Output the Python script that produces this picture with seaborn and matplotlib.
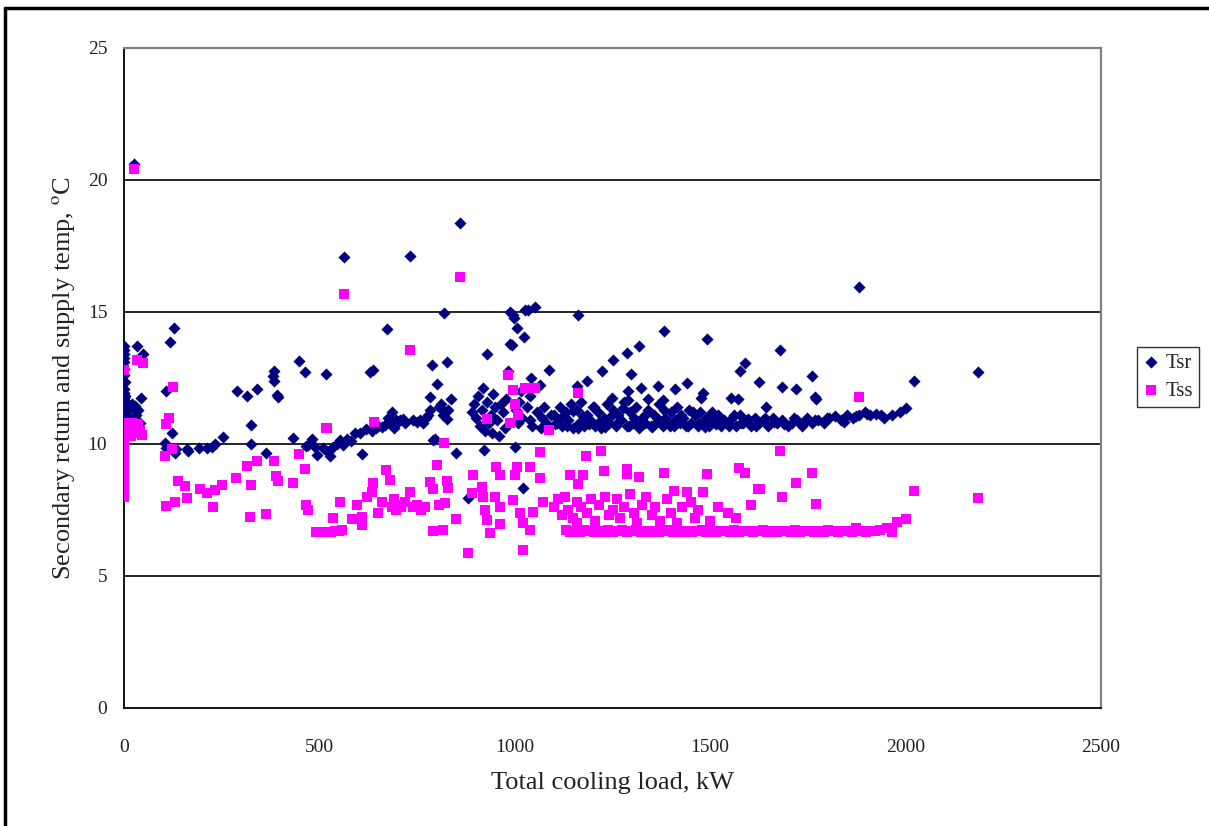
import matplotlib
matplotlib.use("Agg")
import matplotlib.pyplot as plt
from matplotlib.lines import Line2D
import pandas as pd
import seaborn as sns

# ---- Secondary return temperature (Tsr) ----
tsr_load = [
    0, 0, 0, 0, 0, 0, 0, 2, 0, 0, 0, 0, 0, 0, 0, 0, 0, 0, 0, 0, 0, 3, 5, 4, 6, 8, 3, 10, 12, 2,
    25, 32, 48, 43, 27, 35, 20, 30, 40, 15,
    107, 117, 128, 105, 108, 123, 133, 130, 160, 165, 193, 213, 225, 232, 253,
    288, 315, 341, 383, 380, 385, 391, 393, 447, 463, 517, 325, 324, 363, 432, 466, 472, 480, 490,
    495, 510, 520, 522, 528, 535, 545, 553, 560, 563, 570, 580, 592, 604, 610, 620, 630, 638, 635,
    645, 650, 660, 668, 672, 675, 680, 685, 690, 695, 700, 707, 715, 720, 732, 740, 750, 757, 765,
    772, 778, 783, 787, 783, 791, 795, 800, 805, 810, 816, 820, 822, 827, 826, 830, 837, 849, 860,
    881, 890, 895, 900, 905, 910, 915, 919, 921, 925, 928, 930, 935, 938, 942, 945, 950, 955, 960,
    965, 970, 975, 978, 983, 988, 988, 992, 995, 997, 1000, 1004, 1005, 1008, 1012, 1015, 1018,
    1022, 1024, 1026, 1030, 1035, 1038, 1040, 1042, 1045, 1052, 1058, 1064, 1066, 1070, 1075,
    1080, 1088, 1092,
    1158, 1161, 1184, 1223, 1248, 1250, 1286, 1290, 1290, 1297, 1317, 1323, 1342, 1366, 1378,
    1382, 1409, 1440, 1476, 1482, 1491, 1552, 1570, 1576, 1588, 1624, 1644, 1679, 1683, 1720,
    1761, 1768, 1772, 1880, 2000, 2022, 2185,
    1100, 1108, 1115, 1122, 1130, 1137, 1145, 1150, 1158, 1165, 1170, 1178, 1185, 1192, 1200,
    1206, 1212, 1220, 1228, 1235, 1242, 1250, 1258, 1265, 1272, 1280, 1288, 1295, 1302, 1310,
    1318, 1325, 1332, 1340, 1348, 1355, 1362, 1370, 1378, 1385, 1392, 1400, 1408, 1415, 1422,
    1430, 1438, 1445, 1452, 1460, 1468, 1475, 1482, 1490, 1498, 1505, 1512, 1520, 1528, 1535,
    1545, 1555, 1565, 1575, 1585, 1595, 1605, 1615, 1625, 1635, 1648, 1660, 1672, 1685, 1698,
    1710, 1722, 1735, 1748, 1760, 1775, 1790, 1805, 1820, 1835, 1850, 1865, 1880, 1895, 1910,
    1925, 1945, 1965, 1985,
    1104, 1118, 1133, 1148, 1162, 1175, 1190, 1203, 1216, 1232, 1246, 1262, 1276, 1292, 1306,
    1320, 1336, 1352, 1366, 1381, 1396, 1411, 1426, 1442, 1456, 1471, 1486, 1502, 1516, 1532,
    1548, 1562, 1580, 1598, 1618, 1640, 1662, 1690, 1715, 1740, 1768, 1800, 1842, 1872, 1902,
    1938,
]
tsr_temp = [
    13.7, 13.55, 13.4, 13.25, 13.1, 12.85, 12.6, 12.35, 12.1, 11.95, 11.85, 11.75, 11.65, 11.55,
    11.45, 11.35, 11.25, 11.15, 11.05, 10.95, 10.85, 11.8, 11.6, 11.4, 11.2, 11.0, 10.9, 11.5,
    11.3, 11.0,
    20.6, 13.7, 13.4, 11.73, 11.43, 11.3, 11.5, 11.1, 10.8, 10.9,
    12.02, 13.88, 14.38, 10.05, 9.85, 10.4, 9.8, 9.65, 9.82, 9.72, 9.85, 9.84, 9.9, 10.0, 10.28,
    12.02, 11.8, 12.1, 12.78, 12.58, 12.37, 11.87, 11.78, 13.14, 12.71, 12.67, 10.73, 10.0, 9.67,
    10.24, 9.94, 9.98, 10.2, 9.9,
    9.6, 9.85, 9.75, 9.7, 9.55, 9.9, 10.0, 10.15, 9.95, 17.1, 10.2, 10.1, 10.4, 10.4, 9.64, 10.55,
    12.72, 12.8, 10.5,
    10.6, 10.7, 10.65, 10.72, 14.34, 11.0, 10.8, 11.2, 10.6, 10.9, 10.85, 10.9, 10.95, 10.8, 17.13,
    10.9, 10.85, 10.9, 10.8,
    11.0, 11.1, 11.3, 12.99, 11.79, 10.15, 10.2, 12.29, 11.4, 11.5, 11.1, 14.97, 11.2, 13.09,
    10.95, 11.3, 11.7, 9.67, 18.36,
    7.97, 11.2, 11.5, 11.0, 11.8, 10.7, 11.3, 12.14, 9.77, 10.5, 13.4, 11.6, 10.8, 11.1, 10.4,
    11.9, 11.4, 10.9, 10.3,
    11.5, 11.2, 10.6, 11.7, 12.75, 13.8, 15.0, 13.75, 14.9, 14.77, 9.9, 11.3, 14.38, 10.8, 11.6,
    12.0, 11.0,
    8.34, 14.04, 15.08, 11.4, 15.08, 10.9, 11.8, 12.5, 10.7, 15.2, 11.2, 12.23, 10.6, 11.0, 11.4,
    10.8, 12.82, 11.1,
    12.2, 14.89, 12.4, 12.78, 11.73, 13.17, 13.46, 11.99, 11.67, 12.67, 13.73, 12.13, 11.72, 12.2,
    11.68, 14.29, 12.1, 12.3, 11.75, 11.95, 13.98, 11.75, 11.7, 12.75, 13.05, 12.35, 11.41, 13.56,
    12.17, 12.08, 12.58, 11.79, 11.7, 15.96, 11.38, 12.39, 12.73,
    11.1, 10.8, 11.4, 10.7, 11.2, 10.9, 11.5, 10.6, 11.3, 10.8, 11.6, 10.7, 11.1, 10.9, 11.4,
    10.7, 11.2, 10.6, 11.0, 11.5, 10.8, 11.3, 10.7, 11.1, 10.9, 11.6, 10.7, 11.2, 10.8, 11.4,
    10.6, 11.0, 10.8, 11.3, 10.7, 11.1, 10.8, 11.5, 10.7, 11.0, 10.8, 11.2, 10.7, 11.4, 10.8,
    11.0, 10.7, 11.3, 10.8, 11.1, 10.7, 11.2, 10.8, 11.0, 10.7, 11.2, 10.8, 11.1, 10.7, 10.9,
    10.8, 11.0, 10.7, 11.1, 10.8, 10.9, 10.7, 11.0, 10.8, 10.9, 10.7, 11.0, 10.8, 10.9, 10.7,
    10.8, 10.9, 10.7, 11.0, 10.8, 10.9, 10.8, 11.0, 11.05, 10.9, 11.1, 11.0, 11.1, 11.2, 11.1,
    11.15, 11.0, 11.1, 11.2,
    10.75, 11.0, 10.7, 11.25, 10.6, 11.05, 10.75, 11.4, 10.85, 10.65, 11.05, 10.8, 11.35, 10.7,
    11.0, 10.75, 11.15, 10.65, 10.95, 11.3, 10.7, 10.9, 11.1, 10.7, 11.2, 10.8, 10.65, 11.05,
    10.75, 10.9, 10.7, 11.1, 10.8, 10.95, 10.7, 11.0, 10.85, 10.75, 11.0, 10.8, 10.9, 11.0, 10.85,
    11.05, 11.15, 11.1,
]

# ---- Secondary supply temperature (Tss) ----
tss_load = [
    0, 0, 0, 0, 0, 0, 0, 0, 0, 0, 0, 0, 0, 0, 0, 0, 0, 0, 0, 0, 0, 0, 0, 0, 0, 0, 0, 0, 0, 0,
    10, 15, 20, 25, 30, 35, 40, 45, 18, 8,
    25, 33, 48, 126, 116, 107, 123, 106, 137, 157, 161, 107, 131, 194, 212, 232, 252, 227, 287,
    316, 340, 325, 322, 363, 384, 389, 393, 432, 447, 462, 466, 470,
    491, 500, 510, 520, 530, 540, 550, 558,
    517, 519, 536, 553, 563, 583, 596, 608, 608, 621, 634, 638, 640, 650, 660, 671, 680, 685, 690,
    695, 700, 710, 720, 732, 732, 740, 750, 760, 770, 783, 791, 791, 800, 805, 816, 821, 826, 830,
    820, 850, 860,
    881, 890, 893, 917, 919, 924, 928, 928, 936, 949, 953, 962, 962, 962, 983, 988, 996, 996, 1000,
    1000, 1005, 1007, 1013, 1022, 1022, 1026, 1039, 1039, 1047, 1052, 1064, 1064, 1073, 1088,
    1141, 1161, 1175, 1182, 1220, 1227, 1286, 1288, 1317, 1381, 1408, 1440, 1481, 1491, 1574,
    1588, 1623, 1627, 1678, 1683, 1720, 1761, 1771, 1880, 1952, 1964, 1977, 2000, 2022, 2185,
    1100, 1110, 1120, 1128, 1135, 1150, 1158, 1160, 1162, 1170, 1185, 1195, 1205, 1215, 1230,
    1240, 1250, 1262, 1270, 1280, 1295, 1305, 1312, 1325, 1335, 1350, 1360, 1372, 1390, 1400,
    1415, 1428, 1450, 1462, 1470, 1500, 1520, 1545, 1565, 1605,
    1130, 1142, 1154, 1166, 1178, 1190, 1202, 1214, 1226, 1238, 1250, 1262, 1274, 1286, 1298,
    1310, 1322, 1334, 1346, 1358, 1370, 1382, 1394, 1406, 1418, 1430, 1442, 1454, 1466, 1478,
    1490, 1502, 1514, 1526, 1538, 1550, 1562, 1574, 1586, 1598, 1610, 1622, 1634, 1646, 1658,
    1670, 1682, 1694, 1706, 1718, 1730, 1742, 1754, 1766, 1778, 1790, 1802, 1814, 1826, 1838,
    1850, 1862, 1874, 1886, 1898, 1910, 1922, 1934,
]
tss_temp = [
    12.8, 10.8, 10.7, 10.6, 10.5, 10.4, 10.3, 10.2, 10.1, 10.0, 9.9, 9.8, 9.7, 9.6, 9.5, 9.4,
    9.3, 9.2, 9.1, 9.0, 8.9, 8.8, 8.7, 8.6, 8.5, 8.4, 8.3, 8.2, 8.1, 8.0,
    10.7, 10.5, 10.8, 10.6, 10.4, 10.75, 10.5, 10.34, 10.3, 10.6,
    20.4, 13.2, 13.05, 12.15, 11.0, 10.76, 9.81, 9.55, 8.61, 8.41, 7.95, 7.67, 7.8, 8.28, 8.13,
    8.26, 8.43, 7.63, 8.71, 9.17, 9.34, 8.46, 7.22, 7.33, 9.35, 8.8, 8.6, 8.54, 9.64, 9.04, 7.7,
    7.5,
    6.67, 6.67, 6.67, 6.67, 6.67, 6.7, 6.7, 6.75,
    10.6, 10.62, 7.19, 7.81, 15.68, 7.16, 7.69, 7.25, 6.93, 7.98, 8.2, 8.51, 10.85, 7.4, 7.8, 9.02,
    8.64, 7.6, 7.9, 7.5, 7.7, 7.6, 7.8, 13.56, 8.2, 7.6, 7.7, 7.5, 7.6, 8.57, 8.28, 6.7, 9.2, 7.7,
    6.74, 7.75, 8.6, 8.35, 10.05, 7.16, 16.34,
    5.86, 8.16, 8.83, 8.39, 8.0, 7.5, 7.12, 10.93, 6.62, 8.0, 9.14, 8.83, 7.63, 6.97, 12.6, 10.8,
    12.05, 7.88, 8.83, 11.5, 9.14, 11.1, 7.37, 6.99, 5.98, 12.12, 9.14, 6.74, 7.44, 12.14, 8.7,
    9.7, 7.81, 10.52,
    8.83, 11.95, 8.83, 9.53, 9.72, 8.96, 8.86, 9.05, 8.74, 8.91, 8.23, 8.2, 8.2, 8.86, 9.08, 8.89,
    8.3, 8.3, 9.75, 8.01, 8.51, 8.92, 7.73, 11.78, 6.82, 6.68, 7.05, 7.16, 8.23, 7.97,
    7.6, 7.9, 7.3, 8.0, 7.5, 7.2, 7.8, 7.0, 8.5, 7.6, 7.4, 7.9, 7.1, 7.7, 8.0, 7.3, 7.5, 7.9,
    7.2, 7.6, 8.1, 7.4, 7.0, 7.7, 8.0, 7.3, 7.6, 7.1, 7.9, 7.4, 7.0, 7.6, 7.8, 7.2, 7.5, 7.1,
    7.6, 7.4, 7.2, 7.7,
    6.75, 6.68, 6.72, 6.66, 6.74, 6.7, 6.65, 6.72, 6.68, 6.75, 6.66, 6.7, 6.73, 6.67, 6.7, 6.74,
    6.66, 6.7, 6.68, 6.72, 6.65, 6.7, 6.74, 6.67, 6.7, 6.66, 6.72, 6.68, 6.7, 6.75, 6.66, 6.7,
    6.68, 6.72, 6.7, 6.66, 6.74, 6.68, 6.7, 6.72, 6.66, 6.7, 6.75, 6.68, 6.7, 6.66, 6.72, 6.7,
    6.68, 6.74, 6.66, 6.7, 6.72, 6.68, 6.7, 6.66, 6.74, 6.7, 6.68, 6.72, 6.7, 6.66, 6.82, 6.7,
    6.68, 6.72, 6.7, 6.75,
]

x_ticks = [0, 500, 1000, 1500, 2000, 2500]
y_ticks = [0, 5, 10, 15, 20, 25]

NAVY = "#000080"
MAGENTA = "#FF00FF"

sns.set_theme(style="white")
plt.rcParams["font.family"] = ["Liberation Serif", "DejaVu Serif"]
plt.rcParams["mathtext.fontset"] = "stix"

fig = plt.figure(figsize=(12.09, 8.26), dpi=100)
ax = fig.add_axes([124 / 1209, 1 - 708 / 826, (1101 - 124) / 1209, (708 - 48) / 826])

tsr = pd.DataFrame({"load": tsr_load, "temp": tsr_temp})
tss = pd.DataFrame({"load": tss_load, "temp": tss_temp})

sns.scatterplot(data=tsr, x="load", y="temp", ax=ax, marker="D", s=38,
                color=NAVY, linewidth=0, label="Tsr", zorder=3)
sns.scatterplot(data=tss, x="load", y="temp", ax=ax, marker="s", s=55,
                color=MAGENTA, linewidth=0, label="Tss", zorder=4)

ax.set_xlim(0, 2500)
ax.set_ylim(0, 25)
ax.set_xticks(x_ticks)
ax.set_yticks(y_ticks)
ax.set_xticklabels([str(v) for v in x_ticks])
ax.set_yticklabels([str(v) for v in y_ticks])
ax.tick_params(axis="both", labelsize=14, direction="in", length=5, width=1,
               color="black", labelcolor="#222222")
ax.tick_params(axis="x", pad=22)
ax.tick_params(axis="y", pad=12)

for yv in y_ticks[1:-1]:
    ax.axhline(yv, color="black", lw=1.2, zorder=1)

for side in ("left", "bottom"):
    ax.spines[side].set_color("black")
    ax.spines[side].set_linewidth(1.3)
for side in ("top", "right"):
    ax.spines[side].set_color("#808080")
    ax.spines[side].set_linewidth(1.6)

ax.set_xlabel("Total cooling load, kW", fontsize=19, labelpad=12, color="#222222")
ax.set_ylabel(r"Secondary return and supply temp, $^{\mathrm{o}}$C", fontsize=19,
              labelpad=8, color="#222222")

leg = ax.legend(loc="center", bbox_to_anchor=(1168 / 1209, 1 - 377 / 826),
                bbox_transform=fig.transFigure, frameon=True, fancybox=False,
                fontsize=15, handletextpad=0.3, handlelength=0.8, borderpad=0.3,
                labelspacing=0.4, borderaxespad=0, markerscale=1.0)
leg.get_frame().set_edgecolor("black")
leg.get_frame().set_linewidth(1.0)

# outer frame of the figure (top and left edges)
fig.add_artist(Line2D([5 / 1209, 5 / 1209], [0, 1 - 8 / 826], color="black", lw=2.5,
                      transform=fig.transFigure))
fig.add_artist(Line2D([5 / 1209, 1], [1 - 8 / 826, 1 - 8 / 826], color="black", lw=2.5,
                      transform=fig.transFigure))

fig.savefig("out.png", dpi=100)
